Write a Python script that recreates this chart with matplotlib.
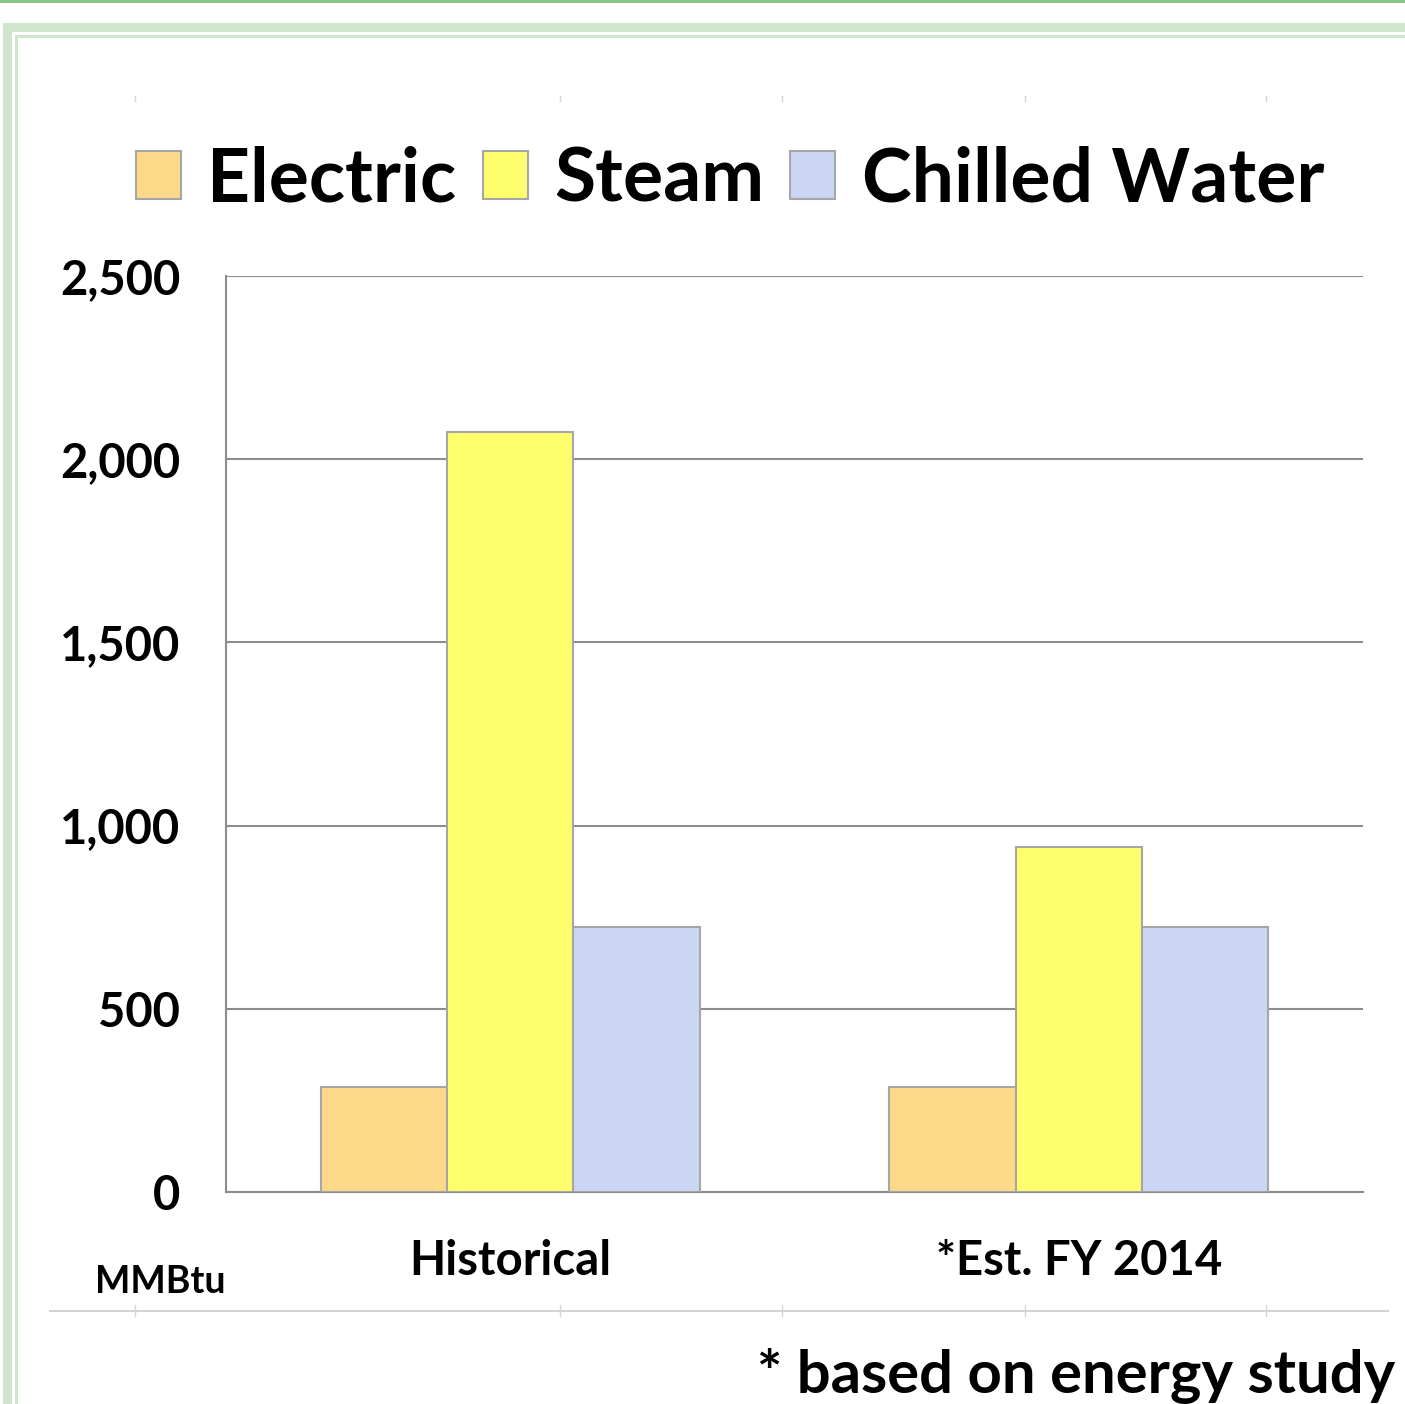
import matplotlib
matplotlib.use("Agg")
import matplotlib.pyplot as plt
import numpy as np
from matplotlib.patches import Rectangle
from matplotlib.lines import Line2D

categories = ["Historical", "*Est. FY 2014"]
series_names = ["Electric", "Steam", "Chilled Water"]
electric = [287, 287]
steam = [2075, 942]
chilled = [724, 724]
y_ticks = [0, 500, 1000, 1500, 2000, 2500]
y_labels = ["0", "500", "1,000", "1,500", "2,000", "2,500"]

colors = ["#FFD98A", "#FFFF6E", "#CAD6F4"]
edge = "#A6A6A6"
W, H = 1405, 1404

plt.rcParams['font.family'] = ['Lato', 'DejaVu Sans']
plt.rcParams['font.weight'] = 'bold'

fig = plt.figure(figsize=(W / 100, H / 100), dpi=100)


def px_rect(x0, y0, x1, y1, color):
    # pixel box (top-left origin) -> figure rectangle
    fig.patches.append(Rectangle((x0 / W, 1 - y1 / H), (x1 - x0) / W, (y1 - y0) / H,
                                 transform=fig.transFigure, facecolor=color,
                                 edgecolor="none", zorder=0))


def px_line(x0, y0, x1, y1, color, lw):
    fig.lines.append(Line2D([x0 / W, x1 / W], [1 - y0 / H, 1 - y1 / H],
                            transform=fig.transFigure, color=color, lw=lw))


# page decoration (green frames)
px_rect(0, 0, W, 3, "#86C584")
px_rect(3, 23, W, 32, "#CDE6CC")
px_rect(3, 23, 12, H, "#CDE6CC")
px_rect(15, 35, W, 38, "#CDE6CC")
px_rect(15, 35, 18, H, "#CDE6CC")

# faint outer chart box marks
px_line(50, 1311, 1388, 1311, "#D4D4D4", 1.5)
for xx in [135, 560, 782, 1025, 1266]:
    px_line(xx, 1305, xx, 1316, "#D4D4D4", 1.0)
    px_line(xx, 96, xx, 101, "#D4D4D4", 1.0)

ax = fig.add_axes([226 / W, 1 - 1192 / H, (1363 - 226) / W, (1192 - 276) / H])

x = np.arange(len(categories))
bw = 0.222
for i, vals in enumerate([electric, steam, chilled]):
    ax.bar(x + (i - 1) * bw, vals, bw, color=colors[i], edgecolor=edge,
           linewidth=1.5, label=series_names[i], zorder=3)

ax.set_xlim(-0.5, 1.5)
ax.set_ylim(0, 2500)
ax.set_yticks(y_ticks)
ax.set_yticklabels(y_labels)
ax.set_xticks(x)
ax.set_xticklabels(categories)
ax.tick_params(axis='y', length=0, pad=33, labelsize=34)
ax.tick_params(axis='x', length=0, pad=34, labelsize=34)
ax.grid(axis='y', color="#8C8C8C", lw=1.5, zorder=0)
for s in ["top", "right"]:
    ax.spines[s].set_visible(False)
ax.spines["left"].set_color("#8C8C8C")
ax.spines["left"].set_linewidth(1.5)
ax.spines["bottom"].set_color("#8C8C8C")
ax.spines["bottom"].set_linewidth(1.5)

fig.legend(loc="center", bbox_to_anchor=(730 / W, 1 - 180 / H), ncol=3,
           frameon=False, fontsize=54, handlelength=0.6, handleheight=0.6,
           handletextpad=0.35, columnspacing=0.35, borderaxespad=0)

fig.text(95 / W, 1 - 1282 / H, "MMBtu", fontsize=27, va="center", ha="left")
fig.text(1395 / W, 1 - 1376 / H, "* based on energy study", fontsize=43,
         va="center", ha="right")

fig.savefig("out.png", dpi=100)
